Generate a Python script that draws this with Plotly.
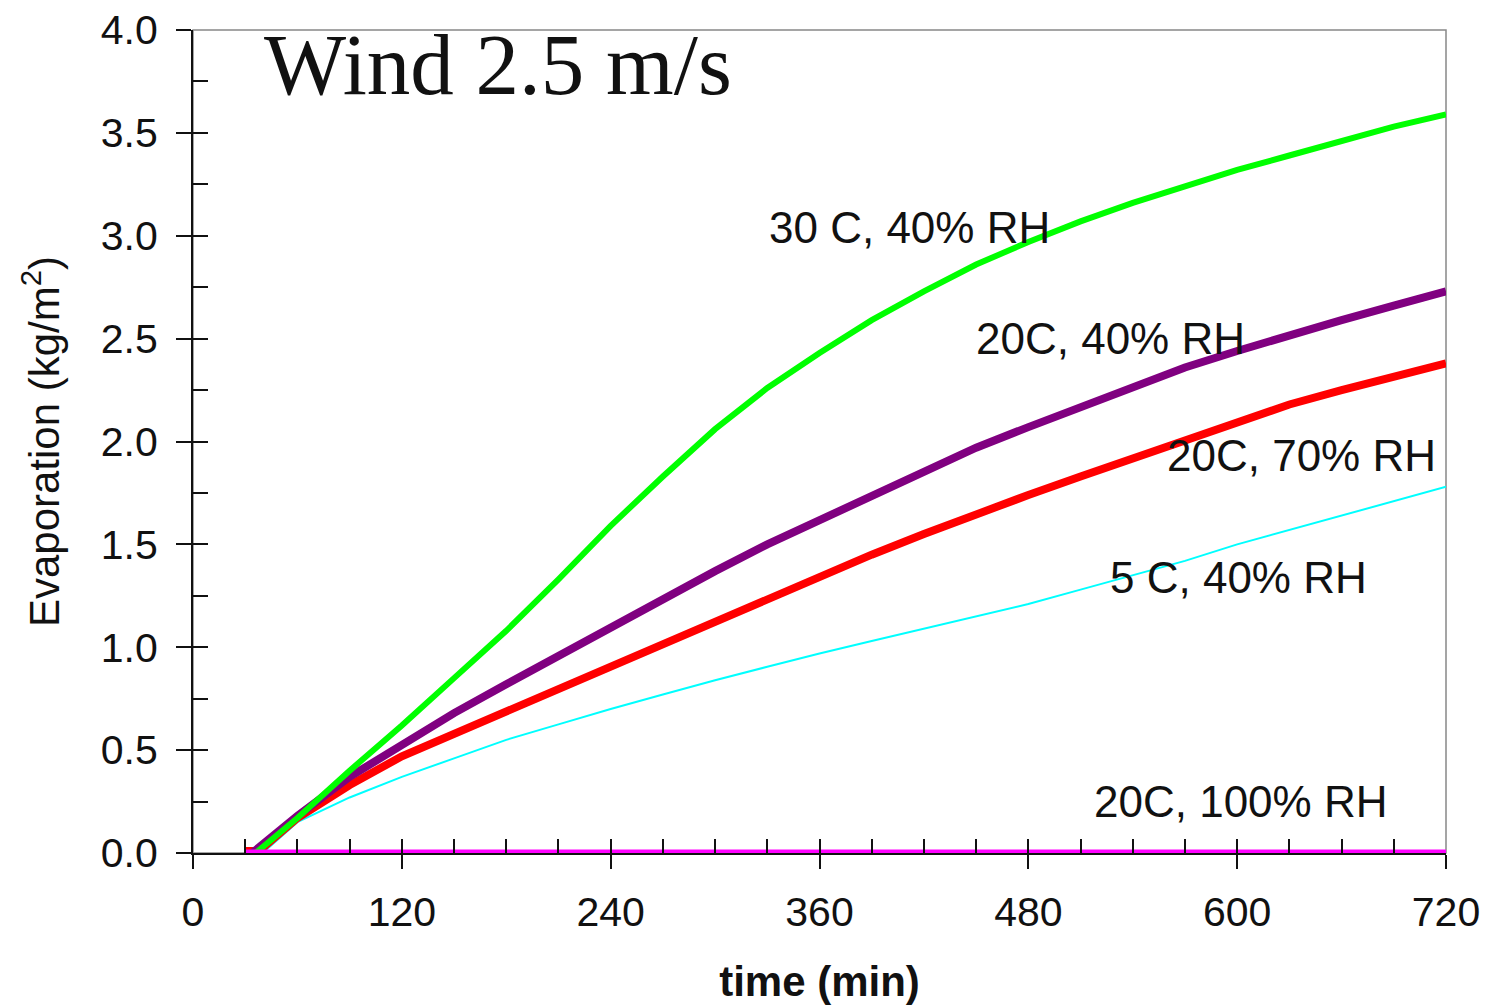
import plotly.graph_objects as go

# ---- data ----
t_green = [36, 60, 90, 120, 150, 180, 210, 240, 270, 300, 330, 360, 390, 420, 450, 480, 510, 540, 570, 600, 630, 660, 690, 720]
v_green = [0.0, 0.17, 0.40, 0.62, 0.85, 1.08, 1.33, 1.59, 1.83, 2.06, 2.26, 2.43, 2.59, 2.73, 2.86, 2.97, 3.07, 3.16, 3.24, 3.32, 3.39, 3.46, 3.53, 3.59]

t_purple = [34, 60, 90, 120, 150, 180, 210, 240, 270, 300, 330, 360, 390, 420, 450, 480, 510, 540, 570, 600, 630, 660, 690, 720]
v_purple = [0.0, 0.18, 0.37, 0.53, 0.68, 0.82, 0.96, 1.10, 1.24, 1.37, 1.50, 1.62, 1.74, 1.86, 1.97, 2.07, 2.17, 2.26, 2.36, 2.44, 2.52, 2.59, 2.66, 2.73]

t_red = [30, 38, 60, 90, 120, 150, 180, 210, 240, 270, 300, 330, 360, 390, 420, 450, 480, 510, 540, 570, 600, 630, 660, 690, 720]
v_red = [0.01, 0.01, 0.17, 0.33, 0.47, 0.58, 0.69, 0.80, 0.91, 1.02, 1.13, 1.24, 1.35, 1.45, 1.55, 1.65, 1.74, 1.83, 1.92, 2.01, 2.10, 2.18, 2.25, 2.32, 2.38]

t_cyan = [40, 60, 90, 120, 150, 180, 210, 240, 270, 300, 330, 360, 390, 420, 450, 480, 510, 540, 570, 600, 630, 660, 690, 720]
v_cyan = [0.0, 0.15, 0.27, 0.37, 0.46, 0.55, 0.625, 0.70, 0.77, 0.84, 0.905, 0.97, 1.03, 1.09, 1.15, 1.21, 1.28, 1.35, 1.42, 1.50, 1.57, 1.64, 1.71, 1.78]

t_magenta = [30, 720]
v_magenta = [0.0, 0.0]

labels = ["30 C, 40% RH", "20C, 40% RH", "20C, 70% RH", "5 C, 40% RH", "20C, 100% RH"]
label_x = [412, 527, 637, 601, 602]
label_y = [3.04, 2.50, 1.93, 1.34, 0.25]

x_ticks = [0, 120, 240, 360, 480, 600, 720]
y_ticks = [0.0, 0.5, 1.0, 1.5, 2.0, 2.5, 3.0, 3.5, 4.0]

fig = go.Figure()

series = [
    (t_cyan, v_cyan, "#00ffff", 2, "5 C, 40% RH"),
    (t_red, v_red, "#ff0000", 8, "20C, 70% RH"),
    (t_purple, v_purple, "#800080", 8, "20C, 40% RH"),
    (t_green, v_green, "#00ff00", 6, "30 C, 40% RH"),
    (t_magenta, v_magenta, "#ff00ff", 7, "20C, 100% RH"),
]
for tx, vy, col, w, nm in series:
    fig.add_trace(go.Scatter(x=tx, y=vy, mode="lines", name=nm,
                             line=dict(color=col, width=w, shape="linear"),
                             showlegend=False, xaxis="x", yaxis="y"))

# invisible trace for overlay axes (inside ticks)
fig.add_trace(go.Scatter(x=[0], y=[0], mode="markers", marker=dict(opacity=0),
                         showlegend=False, hoverinfo="skip", xaxis="x2", yaxis="y2"))

for txt, lx, ly in zip(labels, label_x, label_y):
    fig.add_annotation(x=lx, y=ly, text=txt, showarrow=False,
                       font=dict(family="Liberation Sans, Arial", size=44, color="#111111"),
                       xanchor="center", yanchor="middle")

fig.add_annotation(x=175, y=3.83, text="Wind 2.5 m/s", showarrow=False,
                   font=dict(family="Liberation Serif, Times New Roman", size=87, color="#111111"),
                   xanchor="center", yanchor="middle")

# gray frame (top / right)
fig.add_shape(type="rect", xref="paper", yref="paper", x0=0, x1=1, y0=0, y1=1,
              line=dict(color="#888888", width=1.5), layer="below")

tickfont = dict(family="Liberation Sans, Arial", size=41, color="#111111")

fig.update_layout(
    width=1495, height=1006,
    margin=dict(l=185, r=57, t=22, b=161),
    paper_bgcolor="white", plot_bgcolor="white",
    xaxis=dict(range=[0, 720], tickmode="array", tickvals=x_ticks,
               ticktext=[str(v) for v in x_ticks], automargin=False,
               ticks="outside", ticklen=14, tickwidth=2, tickcolor="#111111",
               showline=True, linecolor="#111111", linewidth=2, layer="below traces",
               showgrid=False, zeroline=False, tickfont=tickfont,
               ticklabelstandoff=8, ticklabeloverflow="allow",
               title=dict(text="<b>time (min)</b>", font=dict(family="Liberation Sans, Arial", size=42, color="#111111"),
                          standoff=32)),
    yaxis=dict(range=[0, 4.0], tickmode="array", tickvals=y_ticks,
               ticktext=[f"{v:.1f}" for v in y_ticks], automargin=False,
               ticks="outside", ticklen=15, tickwidth=2, tickcolor="#111111",
               showline=True, linecolor="#111111", linewidth=2, layer="below traces",
               showgrid=False, zeroline=False, tickfont=tickfont,
               ticklabelstandoff=10, ticklabeloverflow="allow",
               title=dict(text="Evaporation (kg/m<sup>2</sup>)", font=dict(family="Liberation Sans, Arial", size=42, color="#111111"),
                          standoff=28)),
    xaxis2=dict(range=[0, 720], overlaying="x", anchor="y2", side="bottom", automargin=False,
                ticks="inside", dtick=30, tick0=0, ticklen=14, tickwidth=2, tickcolor="#111111",
                showticklabels=False, showgrid=False, zeroline=False, showline=False),
    yaxis2=dict(range=[0, 4.0], overlaying="y", anchor="x2", side="left", automargin=False,
                ticks="inside", dtick=0.25, tick0=0, ticklen=15, tickwidth=2, tickcolor="#111111",
                showticklabels=False, showgrid=False, zeroline=False, showline=False),
)

fig.write_html("out.html")
